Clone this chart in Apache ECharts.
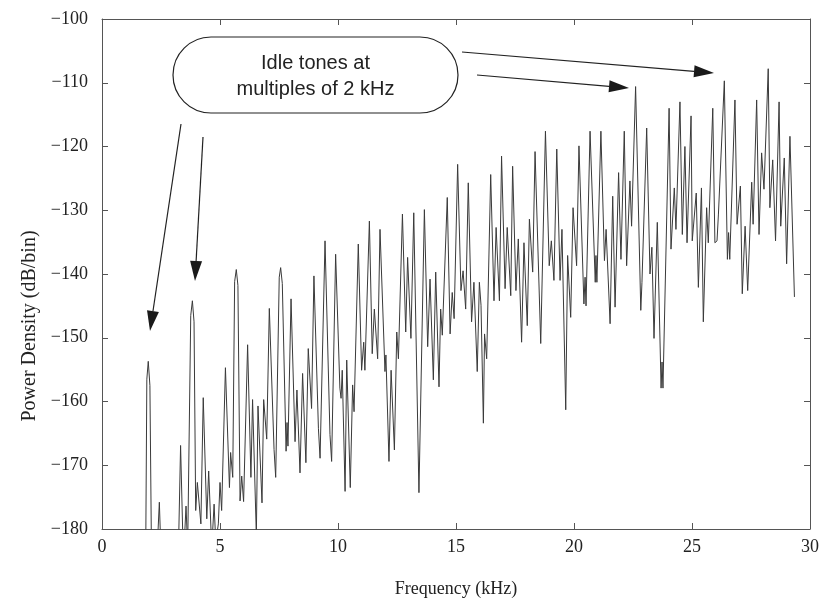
<!DOCTYPE html>
<html>
<head>
<meta charset="utf-8">
<script src="https://cdn.jsdelivr.net/npm/echarts@6/dist/echarts.min.js"></script>
<style>
html,body{margin:0;padding:0;background:#fff;}
#chart{width:833px;height:603px;}
</style>
</head>
<body>
<div id="chart"></div>
<script>
// Frequency (kHz) of each vertex of the trace
const freqKHz = [
1.80,1.85,1.90,1.96,2.03,2.10,2.34,2.43,2.51,3.23,3.33,3.45,3.56,3.63,3.76,3.83,3.90,3.97,4.04,4.19,
4.29,4.44,4.52,4.65,4.75,4.82,4.93,5.00,5.07,5.23,5.40,5.45,5.54,5.62,5.69,5.76,5.85,5.92,6.00,6.17,
6.31,6.38,6.54,6.61,6.78,6.85,6.98,7.09,7.29,7.36,7.51,7.57,7.64,7.80,7.84,7.88,8.01,8.18,8.26,8.39,
8.50,8.64,8.74,8.88,8.98,9.17,9.24,9.45,9.66,9.73,9.90,10.08,10.13,10.18,10.30,10.37,10.52,10.62,10.68,10.86,
11.00,11.09,11.14,11.33,11.45,11.54,11.68,11.78,11.99,12.03,12.16,12.25,12.39,12.49,12.56,12.73,12.87,12.95,13.09,13.21,
13.43,13.66,13.80,13.90,14.04,14.14,14.28,14.35,14.42,14.63,14.75,14.84,14.92,15.07,15.21,15.30,15.41,15.52,15.66,15.76,
15.90,15.99,16.06,16.16,16.21,16.30,16.47,16.61,16.70,16.84,16.93,17.08,17.17,17.32,17.40,17.54,17.64,17.78,17.88,18.02,
18.11,18.25,18.35,18.59,18.79,18.95,19.04,19.15,19.27,19.41,19.49,19.65,19.73,19.86,19.96,20.11,20.21,20.42,20.47,20.51,
20.68,20.90,20.93,20.97,21.14,21.29,21.36,21.53,21.64,21.74,21.89,21.99,22.13,22.23,22.37,22.44,22.61,22.83,22.88,23.08,
23.22,23.30,23.39,23.53,23.69,23.73,23.77,24.03,24.11,24.25,24.32,24.49,24.59,24.70,24.79,24.96,25.01,25.18,25.27,25.40,
25.48,25.62,25.69,25.88,25.97,26.06,26.12,26.37,26.50,26.55,26.60,26.82,26.91,27.05,27.13,27.25,27.36,27.53,27.59,27.74,
27.84,27.95,28.05,28.23,28.30,28.42,28.54,28.69,28.76,28.91,29.01,29.15,29.34
];
// Power density (dB/bin) at each vertex (values below -180 lie off the plot)
const powerDb = [
-190,-185,-156.5,-153.7,-157.5,-185,-183,-175.8,-185,-185,-166.9,-185,-176.4,-183,-146.5,-144.2,-147.5,-177.1,-172.7,-179.2,
-159.4,-178.4,-170.9,-183,-176.1,-182,-179.2,-172.7,-177.1,-154.7,-173.5,-168.0,-171.9,-141.2,-139.3,-141.8,-175.6,-171.7,-175.7,-151.1,
-171.9,-159.7,-181,-160.7,-175.9,-159.7,-165.9,-145.4,-167.5,-171.9,-140.5,-139.0,-141.5,-167.8,-163.3,-167.0,-143.9,-166.3,-158.2,-171.2,
-155.6,-169.6,-151.7,-161.1,-140.3,-164.2,-168.9,-134.8,-165.2,-169.4,-136.9,-157.9,-159.5,-155.1,-174.1,-153.5,-173.5,-157.4,-161.6,-135.3,
-155.1,-150.7,-155.1,-131.7,-152.5,-145.5,-153.3,-133.0,-155.3,-152.7,-169.4,-155.1,-167.6,-149.1,-153.3,-130.6,-149.1,-137.4,-150.1,-130.4,
-174.3,-129.9,-151.4,-140.8,-156.6,-139.7,-157.7,-145.5,-149.6,-128.0,-149.4,-142.9,-147.0,-122.8,-142.6,-139.5,-145.5,-125.7,-147.5,-141.3,
-155.3,-141.3,-144.9,-163.4,-149.4,-153.3,-124.4,-144.2,-132.7,-144.2,-121.5,-142.3,-132.7,-143.4,-123.1,-142.6,-134.5,-150.7,-135.1,-148.1,
-131.4,-139.7,-120.8,-150.9,-117.6,-138.7,-134.8,-141.0,-120.4,-141.0,-133.0,-161.3,-137.1,-146.8,-129.6,-138.7,-119.9,-144.7,-140.5,-145.0,
-117.6,-141.3,-137.1,-141.3,-117.6,-137.9,-133.0,-147.8,-127.8,-145.2,-124.1,-137.7,-117.6,-138.7,-125.4,-132.5,-110.6,-145.7,-141.3,-117.1,
-140.0,-135.8,-150.1,-131.9,-157.9,-153.8,-157.9,-114.0,-136.1,-126.5,-133.0,-113.0,-133.8,-120.0,-135.1,-115.2,-134.8,-127.3,-142.1,-126.5,
-147.5,-129.6,-135.1,-114.0,-135.1,-134.8,-130.6,-109.7,-137.7,-133.5,-137.7,-112.7,-132.2,-126.2,-143.1,-132.5,-142.6,-125.6,-132.2,-112.7,
-133.8,-121.0,-126.7,-107.8,-129.6,-122.1,-134.8,-113.0,-132.5,-121.8,-138.4,-118.4,-143.6
];
const xTicks = [0, 5, 10, 15, 20, 25, 30];
const yTicks = [-180, -170, -160, -150, -140, -130, -120, -110, -100];
const xTitle = 'Frequency (kHz)';
const yTitle = 'Power Density (dB/bin)';
const annotationLines = ['Idle tones at', 'multiples of 2 kHz'];

const chart = echarts.init(document.getElementById('chart'), null, {renderer: 'canvas'});
const serif = "'Liberation Serif', 'Times New Roman', serif";
const sans = "'Liberation Sans', Arial, sans-serif";
const lineCol = '#555';

function arrow(x1, y1, x2, y2) {
  const len = 20, half = 6;
  const dx = x2 - x1, dy = y2 - y1, d = Math.sqrt(dx*dx + dy*dy);
  const ux = dx / d, uy = dy / d;
  const bx = x2 - ux*len, by = y2 - uy*len;
  return [
    {type: 'line', shape: {x1: x1, y1: y1, x2: bx, y2: by}, style: {stroke: '#222', lineWidth: 1.2}, z: 100},
    {type: 'polygon', shape: {points: [[x2, y2], [bx - uy*half, by + ux*half], [bx + uy*half, by - ux*half]]},
     style: {fill: '#1a1a1a'}, z: 100}
  ];
}

const data = freqKHz.map((f, i) => [f, powerDb[i]]);
const fmtMinus = v => String(v).replace('-', '\u2212');

const baseAxis = {
  type: 'value',
  axisLine: {show: true, onZero: false, lineStyle: {color: lineCol, width: 1}},
  axisTick: {show: true, inside: true, length: 6, lineStyle: {color: lineCol}},
  splitLine: {show: false}
};

chart.setOption({
  animation: false,
  backgroundColor: '#fff',
  grid: {left: 102, right: 23, top: 19, bottom: 72, containLabel: false},
  xAxis: [
    Object.assign({}, baseAxis, {
      min: xTicks[0], max: xTicks[xTicks.length - 1], interval: 5, position: 'bottom',
      name: xTitle, nameLocation: 'middle', nameGap: 51,
      nameTextStyle: {fontFamily: serif, fontSize: 18, color: '#222'},
      axisLabel: {fontFamily: serif, fontSize: 18, color: '#222', margin: 9}
    }),
    Object.assign({}, baseAxis, {
      min: xTicks[0], max: xTicks[xTicks.length - 1], interval: 5, position: 'top',
      axisLabel: {show: false}
    })
  ],
  yAxis: [
    Object.assign({}, baseAxis, {
      min: yTicks[0], max: yTicks[yTicks.length - 1], interval: 10, position: 'left',
      axisLabel: {fontFamily: serif, fontSize: 18, color: '#222', margin: 14, formatter: fmtMinus}
    }),
    Object.assign({}, baseAxis, {
      min: yTicks[0], max: yTicks[yTicks.length - 1], interval: 10, position: 'right',
      axisLabel: {show: false}
    })
  ],
  series: [{
    type: 'line',
    data: data,
    xAxisIndex: 0,
    yAxisIndex: 0,
    showSymbol: false,
    clip: true,
    lineStyle: {color: '#3a3a3a', width: 1},
    z: 2
  }],
  graphic: [
    {type: 'text', x: 30, y: 326, rotation: Math.PI / 2,
     style: {text: yTitle, fontFamily: serif, fontSize: 20, fill: '#222', align: 'center', verticalAlign: 'middle'}, z: 100},
    {type: 'rect', shape: {x: 173, y: 37, width: 285, height: 76, r: 38},
     style: {fill: '#fff', stroke: '#222', lineWidth: 1.2}, z: 100},
    {type: 'text', x: 315.5, y: 63, style: {text: annotationLines[0], fontFamily: sans,
      fontSize: 20, fill: '#222', align: 'center', verticalAlign: 'middle'}, z: 101},
    {type: 'text', x: 315.5, y: 89, style: {text: annotationLines[1], fontFamily: sans,
      fontSize: 20, fill: '#222', align: 'center', verticalAlign: 'middle'}, z: 101}
  ].concat(arrow(181, 124, 150, 331), arrow(203, 137, 195, 281), arrow(477, 75, 629, 88), arrow(462, 52, 714, 73))
});
</script>
</body>
</html>
